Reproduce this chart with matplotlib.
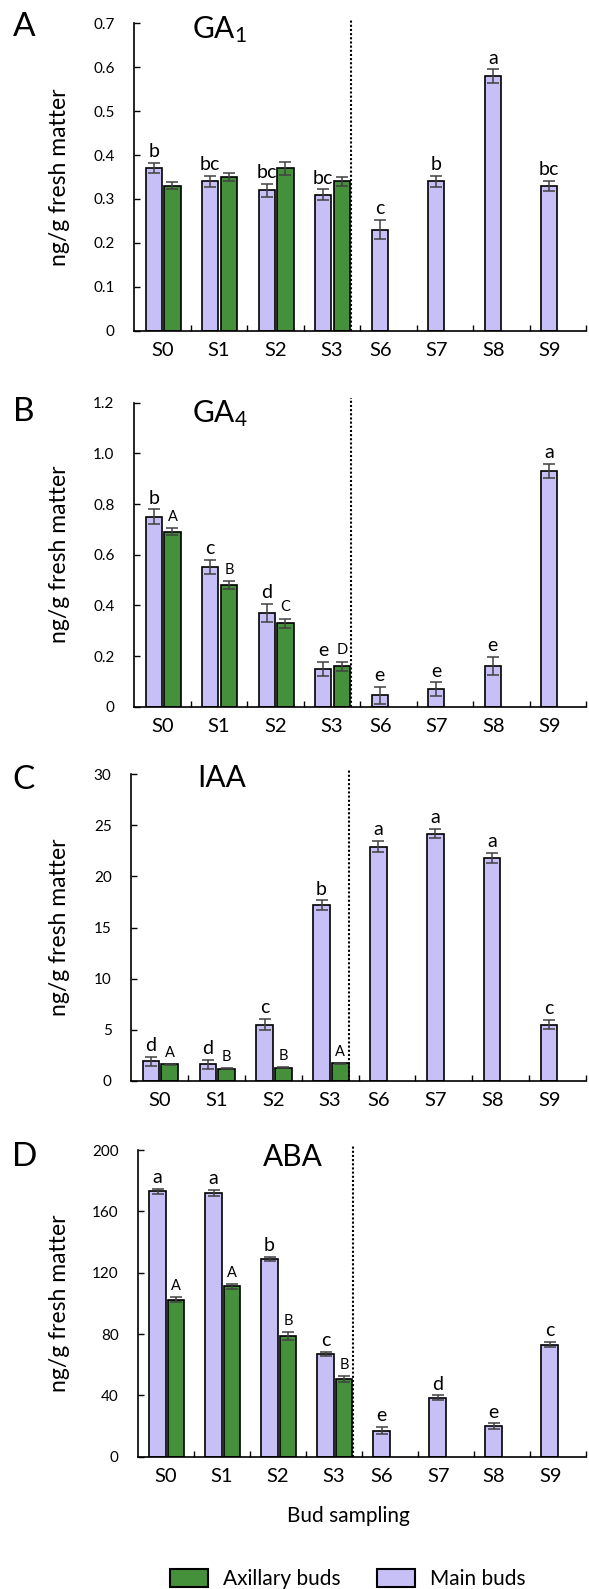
import numpy as np
import matplotlib.pyplot as plt
from matplotlib.patches import Patch

plt.rcParams['font.family'] = ['Lato', 'DejaVu Sans']
plt.rcParams['mathtext.default'] = 'regular'

MAIN_COLOR = "#c7c0f7"
AXIL_COLOR = "#45913b"
ERR_COLOR = "#404040"

stages = ["S0", "S1", "S2", "S3", "S6", "S7", "S8", "S9"]
n_axil = 4  # axillary buds only sampled S0-S3

# GA1
ga1_main = [0.37, 0.34, 0.32, 0.31, 0.23, 0.34, 0.58, 0.33]
ga1_main_err = [0.012, 0.012, 0.015, 0.012, 0.022, 0.012, 0.015, 0.012]
ga1_main_sig = ["b", "bc", "bc", "bc", "c", "b", "a", "bc"]
ga1_axil = [0.33, 0.35, 0.37, 0.34]
ga1_axil_err = [0.008, 0.008, 0.015, 0.01]
ga1_axil_sig = ["", "", "", ""]
ga1_ticks = [0, 0.1, 0.2, 0.3, 0.4, 0.5, 0.6, 0.7]
ga1_ticklabels = ["0", "0.1", "0.2", "0.3", "0.4", "0.5", "0.6", "0.7"]

# GA4
ga4_main = [0.75, 0.55, 0.37, 0.15, 0.045, 0.07, 0.16, 0.93]
ga4_main_err = [0.029, 0.028, 0.035, 0.028, 0.034, 0.026, 0.036, 0.028]
ga4_main_sig = ["b", "c", "d", "e", "e", "e", "e", "a"]
ga4_axil = [0.69, 0.48, 0.33, 0.16]
ga4_axil_err = [0.014, 0.015, 0.018, 0.018]
ga4_axil_sig = ["A", "B", "C", "D"]
ga4_ticks = [0, 0.2, 0.4, 0.6, 0.8, 1.0, 1.2]
ga4_ticklabels = ["0", "0.2", "0.4", "0.6", "0.8", "1.0", "1.2"]

# IAA
iaa_main = [1.9, 1.6, 5.5, 17.2, 22.9, 24.2, 21.8, 5.5]
iaa_main_err = [0.45, 0.45, 0.55, 0.45, 0.55, 0.45, 0.5, 0.45]
iaa_main_sig = ["d", "d", "c", "b", "a", "a", "a", "c"]
iaa_axil = [1.6, 1.15, 1.25, 1.7]
iaa_axil_err = [0.05, 0.05, 0.05, 0.05]
iaa_axil_sig = ["A", "B", "B", "A"]
iaa_ticks = [0, 5, 10, 15, 20, 25, 30]
iaa_ticklabels = ["0", "5", "10", "15", "20", "25", "30"]

# ABA
aba_main = [173, 172, 129, 67, 17, 38.5, 20, 73]
aba_main_err = [1.8, 2.0, 1.5, 1.3, 2.3, 1.5, 1.7, 1.7]
aba_main_sig = ["a", "a", "b", "c", "e", "d", "e", "c"]
aba_axil = [102.5, 111, 78.5, 50.5]
aba_axil_err = [1.7, 1.5, 2.5, 2.0]
aba_axil_sig = ["A", "A", "B", "B"]
aba_ticks = [0, 40, 80, 120, 160, 200]
aba_ticklabels = ["0", "40", "80", "120", "160", "200"]

panels = [
    ("A", "GA$_1$", ga1_main, ga1_main_err, ga1_main_sig, ga1_axil, ga1_axil_err, ga1_axil_sig, ga1_ticks, ga1_ticklabels),
    ("B", "GA$_4$", ga4_main, ga4_main_err, ga4_main_sig, ga4_axil, ga4_axil_err, ga4_axil_sig, ga4_ticks, ga4_ticklabels),
    ("C", "IAA", iaa_main, iaa_main_err, iaa_main_sig, iaa_axil, iaa_axil_err, iaa_axil_sig, iaa_ticks, iaa_ticklabels),
    ("D", "ABA", aba_main, aba_main_err, aba_main_sig, aba_axil, aba_axil_err, aba_axil_sig, aba_ticks, aba_ticklabels),
]

# axes boxes in pixels: left, right, top, bottom ; letter (x, y) ; title (x, y)
W, H = 589, 1589
boxes = [(134, 586, 23.3, 330.7), (134, 586, 402.7, 706.7),
         (131, 586, 774.3, 1080.7), (138, 586, 1150, 1456.7)]
letter_xy = [(24, 27), (24, 412), (24, 780), (25, 1157)]
title_xy = [(192, 30), (192, 414), (197, 778), (263, 1157)]

fig = plt.figure(figsize=(W / 100, H / 100), dpi=100)

BAR_W = 0.29
idx = np.arange(len(stages))
x_main = idx + 0.35
x_axil = idx[:n_axil] + 0.68
label_x = np.where(idx < n_axil, idx + 0.5, idx + 0.36)

for k, (letter, title, main, main_err, main_sig, axil, axil_err, axil_sig, ticks, ticklabels) in enumerate(panels):
    l, r, t, b = boxes[k]
    ax = fig.add_axes([l / W, 1 - b / H, (r - l) / W, (b - t) / H])
    ax.bar(x_main, main, width=BAR_W, color=MAIN_COLOR, edgecolor="black", linewidth=1.2, zorder=2)
    ax.bar(x_axil, axil, width=BAR_W, color=AXIL_COLOR, edgecolor="black", linewidth=1.2, zorder=2)
    ax.errorbar(x_main, main, yerr=main_err, fmt="none", ecolor=ERR_COLOR, elinewidth=1.1, capsize=4, capthick=1.1, zorder=3)
    ax.errorbar(x_axil, axil, yerr=axil_err, fmt="none", ecolor=ERR_COLOR, elinewidth=1.1, capsize=4, capthick=1.1, zorder=3)
    for x, v, e, s in zip(x_main, main, main_err, main_sig):
        ax.annotate(s, (x, v + e), xytext=(0, 2), textcoords="offset points",
                    ha="center", va="bottom", fontsize=14)
    for x, v, e, s in zip(x_axil, axil, axil_err, axil_sig):
        ax.annotate(s, (x, v + e), xytext=(0, 3), textcoords="offset points",
                    ha="center", va="bottom", fontsize=10.5)

    # dotted separator between axillary/main sampling and main-only sampling
    ax.plot([3.84, 3.84], [0, ticks[-1] * 1.015], color="black", linestyle=(0, (1, 1)),
            linewidth=1.5, zorder=4, clip_on=False)

    ax.set_xlim(0, 8)
    ax.set_ylim(ticks[0], ticks[-1])
    ax.set_yticks(ticks)
    ax.set_yticklabels(ticklabels, fontsize=11)
    ax.set_xticks(label_x)
    ax.set_xticklabels(stages, fontsize=14.5)
    ax.set_xticks(np.arange(1, 9), minor=True)
    ax.tick_params(axis="x", which="major", length=0, pad=8)
    ax.tick_params(axis="x", which="minor", direction="in", length=4, width=1)
    ax.tick_params(axis="y", direction="in", length=4, width=1, pad=14)
    for sp in ("top", "right"):
        ax.spines[sp].set_visible(False)
    for sp in ("left", "bottom"):
        ax.spines[sp].set_linewidth(1.2)

    ax.set_ylabel("ng/g fresh matter", fontsize=16.5)
    ax.yaxis.set_label_coords((70 - l) / (r - l), 0.5)

    fig.text(letter_xy[k][0] / W, 1 - letter_xy[k][1] / H, letter, fontsize=24,
             ha="center", va="center")
    fig.text(title_xy[k][0] / W, 1 - title_xy[k][1] / H, title, fontsize=21.5,
             ha="left", va="center")

    if letter == "D":
        ax.set_xlabel("Bud sampling", fontsize=15)
        ax.xaxis.set_label_coords((348 - l) / (r - l), (b - 1506) / (b - t))

handles = [Patch(facecolor=AXIL_COLOR, edgecolor="black", linewidth=1.5, label="Axillary buds"),
           Patch(facecolor=MAIN_COLOR, edgecolor="black", linewidth=1.5, label="Main buds")]
fig.legend(handles=handles, loc="center", bbox_to_anchor=(348 / W, 1 - 1579 / H), ncol=2,
           frameon=False, fontsize=15, handlelength=1.83, handleheight=1.0,
           handletextpad=0.72, columnspacing=1.73)

fig.savefig("out.png", dpi=100)
